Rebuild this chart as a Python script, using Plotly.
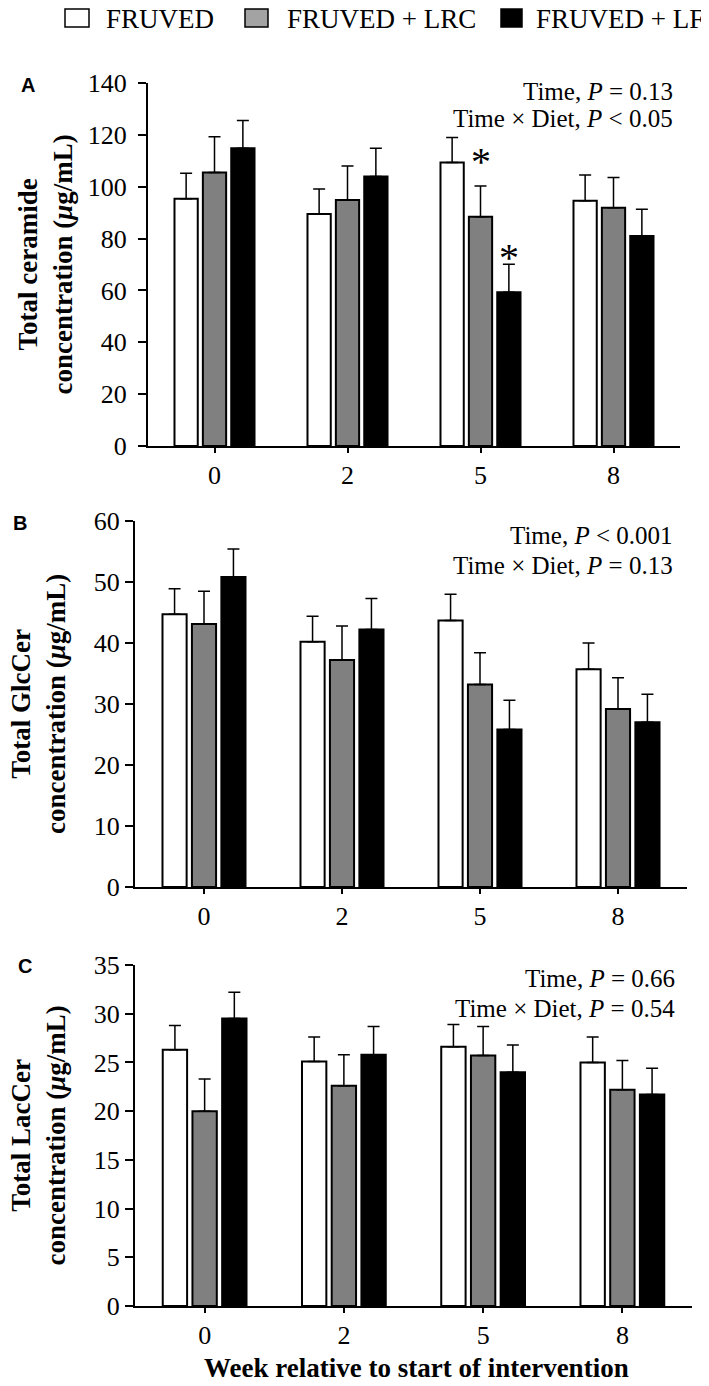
import plotly.graph_objects as go

# page is 709x1386; the html body adds an 8px margin, so the figure is
# made 8px smaller and all pixel positions below are page positions
W, H = 709, 1386
PAGE_PAD = 8
FIG_W, FIG_H = W - PAGE_PAD, H - PAGE_PAD

weeks = ["0", "2", "5", "8"]
groups = ["FRUVED", "FRUVED + LRC", "FRUVED + LF"]

# A: total ceramide (ug/mL), mean and SEM
cer_fruved = [95.4, 89.5, 109.3, 94.6]
cer_lrc = [105.5, 94.9, 88.4, 91.9]
cer_lf = [114.8, 103.9, 59.3, 81.0]
cer_fruved_se = [9.8, 9.6, 9.7, 9.9]
cer_lrc_se = [13.8, 13.1, 11.9, 11.7]
cer_lf_se = [10.7, 10.9, 10.8, 10.3]

# B: total GlcCer
glc_fruved = [44.7, 40.2, 43.7, 35.7]
glc_lrc = [43.1, 37.2, 33.2, 29.2]
glc_lf = [50.8, 42.2, 25.8, 27.0]
glc_fruved_se = [4.2, 4.2, 4.3, 4.3]
glc_lrc_se = [5.4, 5.6, 5.2, 5.1]
glc_lf_se = [4.6, 5.1, 4.8, 4.6]

# C: total LacCer
lac_fruved = [26.3, 25.1, 26.6, 25.0]
lac_lrc = [20.0, 22.6, 25.7, 22.2]
lac_lf = [29.5, 25.8, 24.0, 21.7]
lac_fruved_se = [2.5, 2.5, 2.3, 2.6]
lac_lrc_se = [3.3, 3.2, 3.0, 3.0]
lac_lf_se = [2.7, 2.9, 2.8, 2.7]

stats_a = ["Time, <i>P</i> = 0.13", "Time × Diet, <i>P</i> &lt; 0.05"]
stats_b = ["Time, <i>P</i> &lt; 0.001", "Time × Diet, <i>P</i> = 0.13"]
stats_c = ["Time, <i>P</i> = 0.66", "Time × Diet, <i>P</i> = 0.54"]

# asterisks (panel A, week 5): which group, and label height
sig_groups = [1, 2]
sig_y = [100.3, 63.2]

SERIF = "Liberation Serif"
SANS = "Liberation Sans"
BAR_COLORS = ["#ffffff", "#808080", "#000000"]
BARGAP = 0.36
GROUPGAP = 0.18


def px_x(px):
    return (px - PAGE_PAD) / FIG_W


def px_y(py):
    return 1 - (py - PAGE_PAD) / FIG_H


panels = [
    dict(label="A", means=[cer_fruved, cer_lrc, cer_lf], sems=[cer_fruved_se, cer_lrc_se, cer_lf_se],
         ymax=140, dtick=20, x0=148, x1=680, ytop=83, ybot=446, standoff=6, end_tick=True,
         title="Total ceramide<br>concentration (<i>μ</i>g/mL)", title_x=45,
         label_xy=(28, 85), stats=stats_a, stats_x=675, stats_y=(91, 119)),
    dict(label="B", means=[glc_fruved, glc_lrc, glc_lf], sems=[glc_fruved_se, glc_lrc_se, glc_lf_se],
         ymax=60, dtick=10, x0=135, x1=687, ytop=521, ybot=887, standoff=0, end_tick=False,
         title="Total GlcCer<br>concentration (<i>μ</i>g/mL)", title_x=38,
         label_xy=(20, 523), stats=stats_b, stats_x=675, stats_y=(535, 565)),
    dict(label="C", means=[lac_fruved, lac_lrc, lac_lf], sems=[lac_fruved_se, lac_lrc_se, lac_lf_se],
         ymax=35, dtick=5, x0=135, x1=692, ytop=965, ybot=1306, standoff=0, end_tick=False,
         title="Total LacCer<br>concentration (<i>μ</i>g/mL)", title_x=38,
         label_xy=(25, 966), stats=stats_c, stats_x=677, stats_y=(978, 1008)),
]

fig = go.Figure()
annotations = []
shapes = []

for i, p in enumerate(panels):
    sfx = "" if i == 0 else str(i + 1)
    xref, yref = "x" + sfx, "y" + sfx
    for j in range(3):
        fig.add_trace(go.Bar(
            x=weeks,
            y=p["means"][j],
            name=groups[j],
            marker=dict(color=BAR_COLORS[j], line=dict(color="black", width=2)),
            error_y=dict(type="data", symmetric=False, array=p["sems"][j],
                         arrayminus=[0] * len(weeks), color="black",
                         thickness=1.5, width=6),
            xaxis=xref, yaxis=yref,
            offsetgroup=str(j),
            showlegend=False,
        ))

    fig.update_layout(**{
        "xaxis" + sfx: dict(
            domain=[px_x(p["x0"]), px_x(p["x1"])], anchor=yref, type="category",
            range=[-0.5, len(weeks) - 0.5], showline=True, linecolor="black", linewidth=2,
            ticks="outside", ticklen=5, tickwidth=2, tickcolor="black",
            tickfont=dict(family=SERIF, size=26, color="black"),
            showgrid=False, zeroline=False, automargin=False,
        ),
        "yaxis" + sfx: dict(
            domain=[px_y(p["ybot"]), px_y(p["ytop"])], anchor=xref,
            range=[0, p["ymax"]], dtick=p["dtick"], showline=True, linecolor="black",
            linewidth=2, ticks="outside", ticklen=8, tickwidth=2, tickcolor="black",
            tickfont=dict(family=SERIF, size=26, color="black"),
            ticklabelstandoff=p["standoff"],
            showgrid=False, zeroline=False, automargin=False,
        ),
    })

    # small tick at the right end of the x axis (panel A only)
    if p["end_tick"]:
        shapes.append(dict(
            type="line", xref=xref, yref=yref, x0=len(weeks) - 0.5, x1=len(weeks) - 0.5,
            ysizemode="pixel", yanchor=0, y0=0, y1=-6,
            line=dict(color="black", width=2),
        ))

    # y title
    annotations.append(dict(
        text="<b>%s</b>" % p["title"], textangle=-90, xref="paper", yref="paper",
        x=px_x(p["title_x"]), y=px_y((p["ytop"] + p["ybot"]) / 2),
        xanchor="center", yanchor="middle", showarrow=False,
        font=dict(family=SERIF, size=27, color="black"),
    ))
    # panel letter
    annotations.append(dict(
        text="<b>%s</b>" % p["label"], xref="paper", yref="paper",
        x=px_x(p["label_xy"][0]), y=px_y(p["label_xy"][1]),
        xanchor="center", yanchor="middle", showarrow=False,
        font=dict(family=SANS, size=20, color="black"),
    ))
    # stats text
    for txt, yy in zip(p["stats"], p["stats_y"]):
        annotations.append(dict(
            text=txt, xref="paper", yref="paper",
            x=px_x(p["stats_x"]), y=px_y(yy),
            xanchor="right", yanchor="middle", showarrow=False,
            font=dict(family=SERIF, size=25, color="black"),
        ))

# significance asterisks on week 5 in panel A
slot = (1 - BARGAP) / 3
wk5 = weeks.index("5")
for j, yv in zip(sig_groups, sig_y):
    annotations.append(dict(
        text="*", xref="x", yref="y",
        x=wk5 + (j - 1) * slot, y=yv,
        xanchor="center", yanchor="bottom", showarrow=False,
        font=dict(family=SERIF, size=40, color="black"),
    ))

# x title
annotations.append(dict(
    text="<b>Week relative to start of intervention</b>", xref="paper", yref="paper",
    x=px_x(416), y=px_y(1368), xanchor="center", yanchor="middle", showarrow=False,
    font=dict(family=SERIF, size=27, color="black"),
))

# legend drawn manually at the top
legend_boxes = [(65, 89, "#ffffff"), (245, 268, "#a3a3a3"), (501, 522, "#000000")]
legend_text_x = [104, 285, 534]
for (bx0, bx1, col), tx, g in zip(legend_boxes, legend_text_x, groups):
    shapes.append(dict(
        type="rect", xref="paper", yref="paper",
        x0=px_x(bx0), x1=px_x(bx1), y0=px_y(27), y1=px_y(9),
        fillcolor=col, line=dict(color="black", width=1.5),
    ))
    annotations.append(dict(
        text=g, xref="paper", yref="paper", x=px_x(tx), y=px_y(19),
        xanchor="left", yanchor="middle", showarrow=False,
        font=dict(family=SERIF, size=27, color="black"),
    ))

fig.update_layout(
    width=FIG_W, height=FIG_H,
    margin=dict(l=0, r=0, t=0, b=0),
    font=dict(family=SERIF, color="black"),
    barmode="group", bargap=BARGAP, bargroupgap=GROUPGAP,
    paper_bgcolor="white", plot_bgcolor="white",
    annotations=annotations, shapes=shapes,
    showlegend=False,
)

fig.write_html("out.html")
